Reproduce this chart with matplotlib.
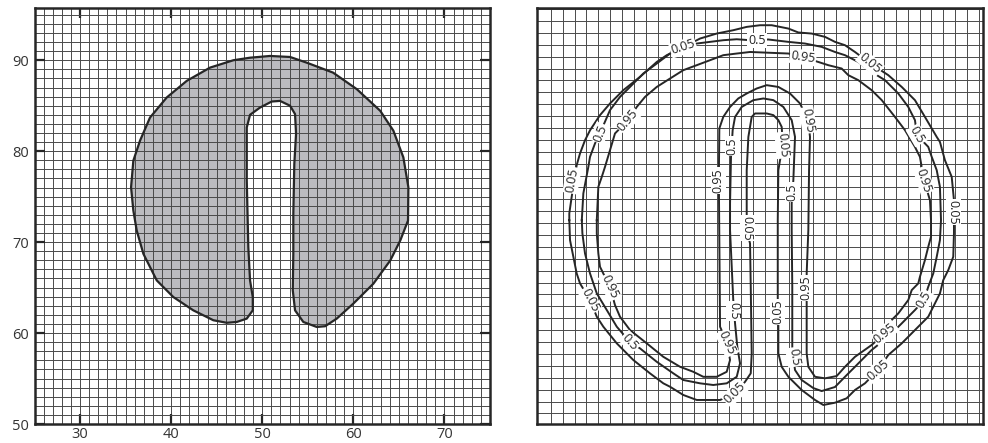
import numpy as np
import matplotlib
matplotlib.use("Agg")
import matplotlib.pyplot as plt

plt.rcParams['font.family'] = ['Open Sans', 'DejaVu Sans']

# left panel: outline of the region (x, y), clockwise from the top
shape_x = [48.66, 50.86, 53.05, 54.89, 57.77, 60.38, 62.95, 64.39, 65.49, 66.04,
           66.0, 65.15, 64.05, 62.2, 60.0, 58.18, 56.9, 55.98, 54.51, 53.6,
           53.35, 53.41, 53.41, 53.52, 53.71, 53.6, 53.05, 51.95, 51.04, 49.76,
           48.66, 48.3, 48.3, 48.47, 48.66, 48.96, 48.96, 48.3, 47.2, 46.1,
           44.63, 42.43, 40.24, 38.42, 36.95, 36.22, 35.85, 35.6, 35.85, 36.58,
           37.68, 39.51, 41.71, 44.27, 46.83]
shape_y = [90.28, 90.47, 90.36, 89.73, 88.64, 86.82, 84.44, 82.26, 79.32, 76.03,
           72.37, 70.18, 67.98, 65.43, 63.24, 61.59, 60.75, 60.67, 61.22, 62.5,
           64.7, 68.72, 73.11, 78.6, 81.91, 84.08, 85.0, 85.53, 85.46, 84.8,
           84.0, 82.61, 76.76, 69.45, 65.79, 63.96, 62.5, 61.59, 61.22, 61.13,
           61.41, 62.5, 63.96, 65.79, 68.72, 71.28, 73.47, 76.03, 78.96, 81.15,
           83.7, 85.9, 87.73, 89.19, 90.0]

# right panel: probability contours
c05_x = [34.56, 34.56, 34.76, 35.18, 35.46, 35.88, 36.31, 37.14, 37.98, 39.1,
         40.5, 41.91, 42.75, 44.12, 45.55, 46.95, 48.34, 49.47, 50.59, 51.57,
         52.97, 53.81, 54.93, 56.05, 56.89, 57.73, 58.57, 59.83, 61.37, 62.5,
         63.61, 64.45, 65.44, 65.71, 66.13, 66.7, 66.89, 66.89, 66.83, 66.41,
         65.99, 65.71, 64.73, 63.89, 62.5, 61.37, 60.5, 59.41, 58.57, 57.87,
         56.89, 55.91, 55.21, 54.09, 52.97, 52.41, 52.13, 52.13, 52.08, 52.08,
         52.08, 52.13, 52.27, 52.52, 52.41, 52.13, 51.71, 51.15, 50.17, 49.89,
         49.61, 49.47, 49.47, 49.58, 49.75, 49.81, 49.89, 49.81, 49.33, 48.49,
         47.23, 46.39, 45.27, 44.14, 43.03, 42.46, 41.34, 39.94, 38.55, 37.42,
         36.87, 36.3, 35.46, 35.18, 34.9, 34.62]
c05_y = [75.25, 75.82, 77.21, 79.87, 80.86, 81.97, 82.82, 84.08, 85.06, 86.18,
         87.29, 88.55, 89.12, 89.79, 90.52, 90.94, 91.22, 91.5, 91.64, 91.64,
         91.36, 91.03, 90.94, 90.66, 90.24, 89.96, 89.39, 88.45, 87.44, 86.45,
         85.34, 83.93, 82.25, 81.83, 80.29, 78.89, 76.93, 74.16, 72.17, 71.05,
         70.21, 69.09, 67.13, 66.29, 64.89, 63.91, 62.65, 61.53, 60.97, 60.27,
         59.9, 59.71, 60.13, 60.97, 62.08, 62.92, 64.05, 66.57, 68.53, 72.45,
         75.25, 79.45, 80.29, 81.55, 83.09, 83.66, 84.08, 84.22, 84.22, 83.93,
         82.25, 79.45, 75.53, 73.99, 73.29, 69.65, 64.05, 62.37, 61.66, 60.71,
         60.13, 60.13, 60.13, 60.55, 61.24, 61.53, 62.37, 63.49, 64.89, 66.29,
         67.13, 68.53, 69.93, 70.77, 72.17, 73.57]

c50_x = [35.61, 35.74, 36.16, 36.3, 36.72, 37.14, 37.98, 38.82, 39.66, 40.78,
         41.91, 43.03, 44.14, 45.27, 46.39, 47.5, 48.63, 49.75, 51.29, 52.97,
         54.37, 55.77, 56.89, 57.73, 58.85, 59.97, 61.09, 62.21, 63.05, 63.61,
         63.78, 64.73, 65.02, 65.44, 65.71, 65.8, 65.71, 65.44, 65.15, 64.73,
         64.37, 63.61, 62.5, 61.37, 59.97, 58.57, 57.73, 56.89, 55.77, 55.07,
         54.09, 53.53, 53.39, 53.3, 53.3, 53.25, 53.25, 53.39, 53.53, 53.25,
         52.55, 51.71, 50.87, 50.03, 49.05, 48.49, 48.29, 48.15, 48.07, 48.07,
         48.34, 48.49, 48.68, 48.91, 48.63, 47.79, 46.66, 45.55, 44.14, 43.3,
         41.91, 40.5, 39.66, 38.55, 37.71, 36.87, 36.3, 35.88, 35.66]
c50_y = [75.25, 77.5, 79.73, 80.57, 81.7, 82.56, 84.5, 85.61, 86.45, 87.58,
         88.42, 89.26, 89.68, 90.1, 90.24, 90.38, 90.46, 90.38, 90.44, 90.24,
         90.1, 89.82, 89.39, 89.12, 88.55, 87.71, 87.02, 85.9, 84.77, 83.66,
         82.4, 81.41, 80.57, 79.45, 78.05, 75.25, 73.57, 72.17, 70.77, 69.65,
         68.53, 67.69, 66.57, 65.45, 64.33, 62.92, 62.08, 61.22, 60.88, 61.13,
         61.81, 62.65, 63.74, 64.61, 69.65, 74.41, 76.66, 78.61, 82.25, 83.66,
         84.77, 85.34, 85.48, 85.34, 84.77, 83.93, 82.82, 80.57, 76.66, 74.41,
         68.53, 66.57, 64.61, 63.21, 62.08, 61.53, 61.39, 61.53, 61.81, 62.37,
         63.34, 64.47, 65.0, 66.29, 67.69, 69.09, 70.77, 72.45, 74.13]

c95_x = [36.87, 37.0, 37.29, 37.56, 37.98, 38.4, 39.5, 40.23, 40.92, 41.91,
         43.03, 44.14, 45.27, 46.39, 47.5, 48.63, 49.75, 52.97, 54.2, 55.49,
         56.33, 57.45, 58.01, 58.85, 59.97, 60.82, 61.93, 62.77, 63.61, 64.03,
         64.37, 64.87, 64.96, 64.96, 64.73, 64.45, 64.03, 63.89, 63.34, 63.05,
         62.21, 61.37, 61.09, 59.97, 58.57, 57.73, 57.03, 56.05, 55.21, 54.65,
         54.51, 54.51, 54.51, 54.65, 54.71, 54.79, 54.62, 53.95, 53.11, 52.13,
         51.15, 50.31, 49.47, 48.76, 48.07, 47.5, 47.17, 47.14, 47.14, 47.23,
         47.82, 48.07, 47.79, 46.95, 45.82, 44.98, 43.87, 42.46, 41.07, 39.66,
         38.82, 38.4, 37.98, 37.14, 37.0, 36.87]
c95_y = [75.25, 78.05, 78.89, 79.73, 81.13, 82.54, 83.66, 84.77, 85.61, 86.45,
         87.16, 87.86, 88.28, 88.7, 89.12, 89.26, 89.39, 89.26, 88.95, 88.55,
         88.28, 88.0, 87.44, 87.02, 86.18, 85.34, 83.93, 82.82, 81.41, 80.57,
         78.61, 76.93, 75.25, 73.85, 73.01, 71.89, 70.49, 69.93, 69.37, 68.53,
         67.41, 66.57, 65.76, 64.75, 63.76, 62.92, 62.14, 61.95, 62.08, 62.92,
         64.05, 68.25, 70.77, 74.41, 79.45, 82.25, 83.66, 85.06, 85.9, 86.45,
         86.6, 86.32, 85.9, 85.48, 84.77, 83.93, 82.96, 80.02, 77.21, 66.29,
         64.92, 63.49, 62.5, 62.08, 62.08, 62.5, 62.92, 63.76, 64.89, 66.01,
         67.13, 68.11, 69.62, 71.33, 72.45, 74.13]

# contour labels: text, x, y, rotation (degrees)
lab_text = ['0.05'] * 10 + ['0.5'] * 9 + ['0.95'] * 9
lab_x = [34.79, 44.12, 59.83, 66.81, 60.5, 52.1, 52.52, 49.5, 48.49, 36.3,
         37.14, 50.34, 63.78, 64.37, 53.45, 53.28, 48.24, 48.4, 39.66,
         39.5, 54.2, 64.37, 61.09, 54.45, 54.62, 47.06, 47.82, 37.98]
lab_y = [78.61, 89.79, 88.45, 75.92, 62.65, 67.52, 81.55, 74.58, 60.71, 68.53,
         82.56, 90.38, 82.4, 68.53, 63.74, 77.61, 81.47, 67.6, 65.0,
         83.66, 88.95, 78.61, 65.76, 69.53, 83.66, 78.61, 64.92, 69.62]
lab_rot = [80, 18, -40, -90, 42, 90, -85, -90, 45, -62,
           68, 0, -60, 60, -80, 90, 90, -90, -48,
           50, -8, -72, 40, 90, -80, 90, -65, -65]

ink = '#262626'
grid_c = '#4a4a4a'

fig = plt.figure(figsize=(9.88, 4.43), dpi=100)
ax1 = fig.add_axes([34.5 / 988, 19 / 443, 455.5 / 988, 416.5 / 443])
ax2 = fig.add_axes([537.3 / 988, 19 / 443, 445.7 / 988, 416.5 / 443])

# ---- left panel
ax1.set_xlim(25, 75)
ax1.set_ylim(50, 95.8)
ax1.set_xticks([30, 40, 50, 60, 70])
ax1.set_yticks([50, 60, 70, 80, 90])
ax1.set_xticks(np.arange(26, 75), minor=True)
ax1.set_yticks(np.arange(51, 96), minor=True)
ax1.grid(which='both', color=grid_c, lw=0.7, zorder=1)
ax1.set_axisbelow(False)
ax1.fill(shape_x, shape_y, facecolor='#bcbcc0', edgecolor='none', zorder=0.5)
ax1.fill(shape_x, shape_y, facecolor='none', edgecolor=ink, lw=1.6, zorder=3,
         joinstyle='round')
ax1.tick_params(which='major', direction='in', length=7, width=1.6, color=ink,
                top=True, right=True, labelsize=10.5, labelcolor='#333333')
ax1.tick_params(axis='x', which='major', pad=2)
ax1.tick_params(axis='y', which='major', pad=4)
ax1.tick_params(which='minor', length=0)

# ---- right panel
ax2.set_xlim(31.87, 69.33)
ax2.set_ylim(58.11, 93.13)
ax2.set_xticks(np.arange(33, 70))
ax2.set_yticks(np.arange(59, 94))
ax2.grid(which='major', color=grid_c, lw=0.7, zorder=1)
ax2.tick_params(length=0, labelbottom=False, labelleft=False)
for cx, cy in [(c05_x, c05_y), (c50_x, c50_y), (c95_x, c95_y)]:
    ax2.plot(cx + cx[:1], cy + cy[:1], color=ink, lw=1.4, zorder=3,
             solid_joinstyle='round')
for t, x, y, r in zip(lab_text, lab_x, lab_y, lab_rot):
    ax2.text(x, y, t, rotation=r, rotation_mode='anchor', ha='center', va='center',
             fontsize=9, color='#222222', zorder=4,
             bbox=dict(boxstyle='square,pad=0.08', fc='white', ec='none'))

for ax in (ax1, ax2):
    for s in ax.spines.values():
        s.set_linewidth(1.8)
        s.set_color(ink)
        s.set_zorder(5)

fig.savefig('out.png', dpi=100)
